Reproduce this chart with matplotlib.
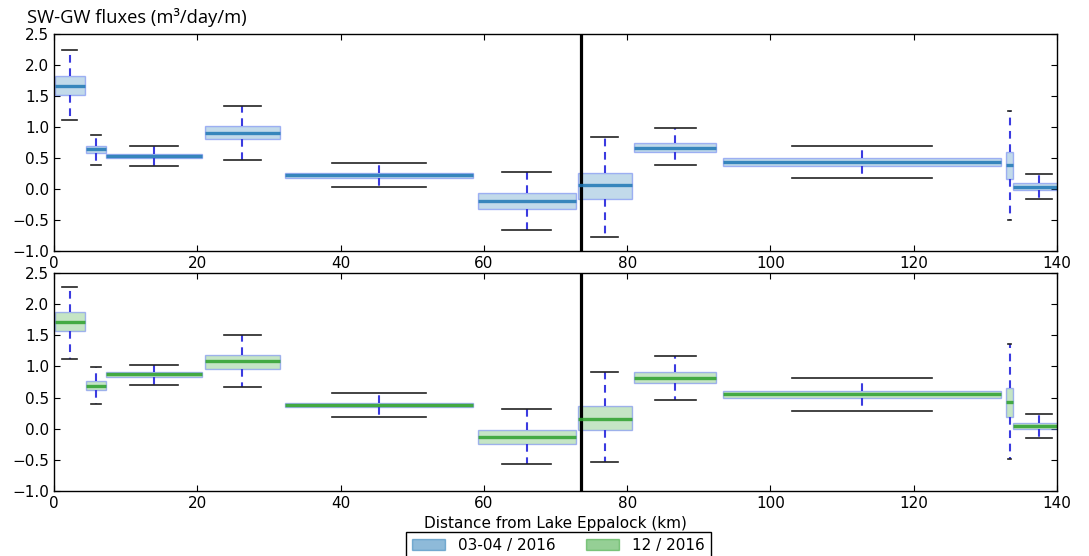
import numpy as np
import matplotlib
matplotlib.use("Agg")
import matplotlib.pyplot as plt
from matplotlib.patches import Patch

# box positions / widths along the river (km)
positions = [2.2, 5.8, 14.0, 26.3, 45.4, 66.0, 76.9, 86.7, 112.8, 133.4, 137.5]
widths = [4.2, 2.8, 13.4, 10.5, 26.3, 13.7, 7.5, 11.4, 38.9, 1.0, 7.2]
divider_km = 73.5

# 03-04 / 2016
mar_whishi = [2.25, 0.88, 0.70, 1.345, 0.42, 0.27, 0.84, 0.98, 0.70, 1.26, 0.236]
mar_q3 = [1.82, 0.69, 0.567, 1.02, 0.263, -0.07, 0.258, 0.75, 0.495, 0.59, 0.096]
mar_med = [1.66, 0.64, 0.535, 0.907, 0.22, -0.19, 0.057, 0.669, 0.44, 0.38, 0.036]
mar_q1 = [1.52, 0.58, 0.495, 0.80, 0.17, -0.315, -0.16, 0.593, 0.377, 0.155, -0.017]
mar_whislo = [1.12, 0.39, 0.365, 0.475, 0.025, -0.66, -0.774, 0.38, 0.175, -0.50, -0.158]

# 12 / 2016
dec_whishi = [2.28, 0.99, 1.03, 1.51, 0.571, 0.323, 0.913, 1.175, 0.817, 1.363, 0.243]
dec_q3 = [1.867, 0.77, 0.913, 1.186, 0.42, -0.02, 0.362, 0.913, 0.613, 0.65, 0.098]
dec_med = [1.72, 0.69, 0.876, 1.08, 0.383, -0.127, 0.153, 0.82, 0.555, 0.436, 0.05]
dec_q1 = [1.573, 0.62, 0.833, 0.966, 0.346, -0.245, -0.024, 0.73, 0.495, 0.195, 0.002]
dec_whislo = [1.117, 0.403, 0.71, 0.667, 0.19, -0.56, -0.53, 0.463, 0.29, -0.485, -0.153]

legend_labels = ['03-04 / 2016', '12 / 2016']
xticks = [0, 20, 40, 60, 80, 100, 120, 140]
yticks = [-1.0, -0.5, 0.0, 0.5, 1.0, 1.5, 2.0, 2.5]

plt.rcParams['font.family'] = 'DejaVu Sans'
plt.rcParams['font.size'] = 11
plt.rcParams['xtick.direction'] = 'in'
plt.rcParams['ytick.direction'] = 'in'
plt.rcParams['xtick.top'] = True
plt.rcParams['ytick.right'] = True
plt.rcParams['xtick.major.size'] = 4
plt.rcParams['ytick.major.size'] = 4
plt.rcParams['axes.linewidth'] = 1.0

blue = '#1f77b4'
green = '#2ca02c'
edge = (0.35, 0.45, 0.95, 0.5)


def make_stats(lo, q1, med, q3, hi):
    return [dict(whislo=a, q1=b, med=c, q3=d, whishi=e, fliers=[])
            for a, b, c, d, e in zip(lo, q1, med, q3, hi)]


def draw(ax, stats, color):
    ax.bxp(stats, positions=positions, widths=widths, patch_artist=True,
           manage_ticks=False, showfliers=False,
           boxprops=dict(facecolor=matplotlib.colors.to_rgba(color, 0.27),
                         edgecolor=edge, linewidth=1.0),
           medianprops=dict(color=color, linewidth=2.4, alpha=0.85),
           whiskerprops=dict(color='#3b3be0', linewidth=1.5, linestyle=(0, (3.7, 2.7))),
           capprops=dict(color='#222222', linewidth=1.2))
    ax.axvline(divider_km, color='black', linewidth=2.3)
    ax.set_xlim(0, 140)
    ax.set_ylim(-1.0, 2.5)
    ax.set_xticks(xticks)
    ax.set_yticks(yticks)


fig = plt.figure(figsize=(10.89, 5.56), dpi=100)
ax1 = fig.add_axes([0.0496, 0.5486, 0.921, 0.390])
ax2 = fig.add_axes([0.0496, 0.1169, 0.921, 0.392])

draw(ax1, make_stats(mar_whislo, mar_q1, mar_med, mar_q3, mar_whishi), blue)
draw(ax2, make_stats(dec_whislo, dec_q1, dec_med, dec_q3, dec_whishi), green)

ax2.set_xlabel('Distance from Lake Eppalock (km)', labelpad=4)
fig.text(0.0245, 0.958, 'SW-GW fluxes (m³/day/m)', family='Open Sans',
         fontsize=13.2, ha='left', va='baseline')

handles = [Patch(facecolor=matplotlib.colors.to_rgba(c, 0.5), edgecolor=matplotlib.colors.to_rgba(c, 0.5))
           for c in (blue, green)]
leg = fig.legend(handles, legend_labels, loc='upper center', bbox_to_anchor=(0.5125, 0.0437),
                 ncol=2, fancybox=False, edgecolor='black', framealpha=1,
                 handlelength=2.2, borderaxespad=0)
leg.get_frame().set_linewidth(1.0)

fig.savefig('out.png', dpi=100)
